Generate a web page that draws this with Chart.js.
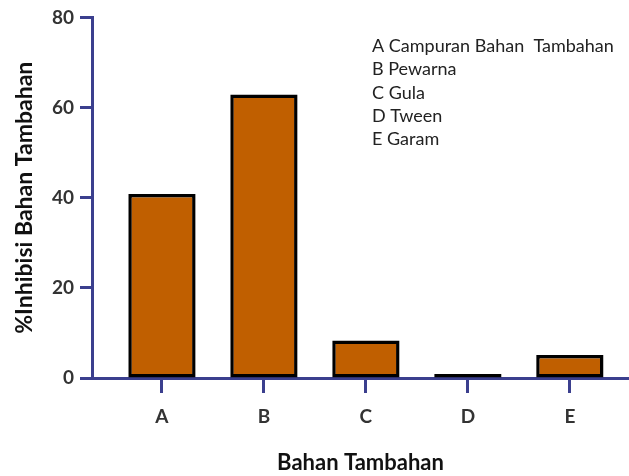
<!DOCTYPE html>
<html>
<head>
<meta charset="utf-8">
<script src="https://cdn.jsdelivr.net/npm/chart.js@4.4.1/dist/chart.umd.min.js"></script>
<style>
  html, body { margin: 0; padding: 0; background: #fff; }
  #wrap { width: 629px; height: 476px; }
</style>
</head>
<body>
<div id="wrap"><canvas id="barInhibisi" width="629" height="476"></canvas></div>
<script>
const KATEGORI = ['A', 'B', 'C', 'D', 'E'];
const INHIBISI = [40.8, 62.9, 8.3, 0.9, 5.1];
const Y_TICKS = [0, 20, 40, 60, 80];
const KETERANGAN = [
  'A Campuran Bahan  Tambahan',
  'B Pewarna',
  'C Gula',
  'D Tween',
  'E Garam'
];

const AXIS_COLOR = '#3b3f8e';
const TEXT_COLOR = '#333333';

// keterangan huruf di pojok kanan atas
const legendText = {
  id: 'legendText',
  afterDraw(chart) {
    const ctx = chart.ctx;
    ctx.save();
    ctx.font = '18px Lato';
    ctx.fillStyle = '#222';
    ctx.textAlign = 'left';
    ctx.textBaseline = 'alphabetic';
    KETERANGAN.forEach((t, i) => ctx.fillText(t, 372, 52 + i * 23.3));
    ctx.restore();
  }
};

window.addEventListener('DOMContentLoaded', () => {
  const ctx = document.getElementById('barInhibisi');
  new Chart(ctx, {
    type: 'bar',
    data: {
      datasets: [{
        data: INHIBISI.map((v, i) => ({ x: i, y: v })),
        backgroundColor: '#c05f00',
        borderColor: '#000',
        borderWidth: 3.5,
        borderSkipped: false,
        barPercentage: 0.66,
        categoryPercentage: 1
      }]
    },
    options: {
      responsive: false,
      animation: false,
      layout: { padding: { top: 17, right: 0, left: 0, bottom: 0 } },
      plugins: { legend: { display: false }, tooltip: { enabled: false } },
      scales: {
        x: {
          type: 'linear',
          offset: false,
          min: -0.686,
          max: 4.58,
          afterFit: s => { s.height = 98; },
          afterBuildTicks: s => { s.ticks = KATEGORI.map((_, i) => ({ value: i })); },
          grid: { offset: false, drawOnChartArea: false, drawTicks: true, tickLength: 15, tickColor: AXIS_COLOR, tickWidth: 3 },
          border: { color: AXIS_COLOR, width: 3 },
          ticks: {
            padding: 12,
            color: TEXT_COLOR,
            font: { family: 'Lato', size: 19, weight: 'bold' },
            callback: v => KATEGORI[v]
          },
          title: {
            display: true,
            text: 'Bahan Tambahan',
            color: '#111',
            font: { family: 'Lato', size: 22, weight: 'bold' },
            padding: { top: 0, bottom: 0 }
          }
        },
        y: {
          min: 0,
          max: 80,
          afterFit: s => { s.width = 92; },
          afterBuildTicks: s => { s.ticks = Y_TICKS.map(v => ({ value: v })); },
          grid: { drawOnChartArea: false, drawTicks: true, tickLength: 12, tickColor: AXIS_COLOR, tickWidth: 3 },
          border: { color: AXIS_COLOR, width: 3 },
          ticks: {
            padding: 6,
            color: TEXT_COLOR,
            font: { family: 'Lato', size: 19, weight: 'bold' }
          },
          title: {
            display: true,
            text: '%Inhibisi Bahan Tambahan',
            color: '#111',
            font: { family: 'Lato', size: 23, weight: 'bold' },
            padding: { top: 11, bottom: 0 }
          }
        }
      }
    },
    plugins: [legendText]
  });
});
</script>
</body>
</html>
